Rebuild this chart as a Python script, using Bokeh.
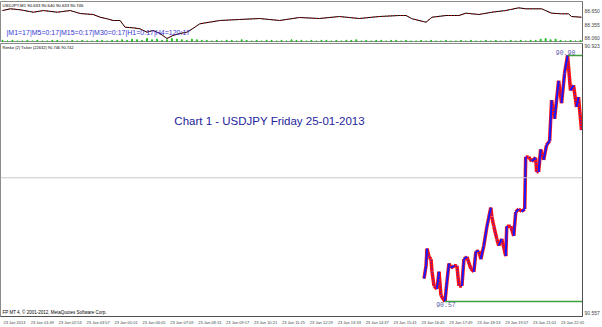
from bokeh.plotting import figure
from bokeh.layouts import column
from bokeh.models import Range1d, FixedTicker, Label, Span, NumeralTickFormatter
from bokeh.embed import file_html
from bokeh.resources import INLINE

# ---------------- data: upper window (USDJPY,M1) ----------------
m1_bars = [2, 10, 20, 33, 43, 57, 70, 80, 93, 100, 107, 113, 120, 125, 133, 140, 147, 153, 160, 167,
           173, 180, 187, 193, 200, 220, 240, 260, 280, 300, 320, 340, 360, 380, 400, 407, 413, 427, 433, 447,
           460, 467, 480, 493, 507, 520, 527, 543, 553, 563, 570, 573, 583]
m1_close = [88.665, 88.702, 88.680, 88.628, 88.665, 88.628, 88.665, 88.600, 88.579, 88.520,
            88.486, 88.449, 88.449, 88.304, 88.291, 88.270, 88.196, 88.233, 88.168, 88.060,
            88.125, 88.168, 88.196, 88.276, 88.378, 88.449, 88.471, 88.492, 88.449, 88.514,
            88.492, 88.535, 88.492, 88.535, 88.557, 88.557, 88.486, 88.412, 88.520, 88.557,
            88.557, 88.607, 88.579, 88.628, 88.665, 88.723, 88.702, 88.702, 88.607, 88.594,
            88.594, 88.535, 88.520]
m1_volume = [2, 1, 2, 1, 1, 2, 1, 2, 1, 1, 2, 2, 1, 1, 2, 1, 2, 1, 1, 2, 2, 1, 2, 2,
             3, 2, 4, 3, 2, 5, 3, 4, 2, 3, 5, 4, 3, 2, 4, 3,
             2, 2, 1, 2, 1, 2, 2, 1, 3, 2, 1, 2, 1, 2, 2, 1, 2, 1, 3, 2, 2, 1, 2, 1, 2, 2, 1, 2, 1, 2,
             2, 3, 1, 2, 1, 2, 2, 1, 2, 2,
             1, 2, 1, 1, 2, 1, 2, 1, 1, 2, 1, 1, 2, 1, 2, 1, 1, 2, 1, 2, 1, 1, 2, 1, 2, 1, 2, 2,
             4, 5, 3, 4,
             2, 1, 2, 1, 2]
m1_volume_bars = [2 + 5 * i for i in range(len(m1_volume))]
m1_price_ticks = [88.650, 88.355, 88.060]
m1_header = "USDJPY,M1  90.633 90.640 90.633 90.746"
timer_text = "|M1=17|M5=0:17|M15=0:17|M30=0:17|H1=0:17|H4=120:17"

# ---------------- data: Renko window ----------------
renko_bars = [425, 427, 428, 430, 432, 433, 435, 438, 440, 442, 446, 448, 450, 452, 455, 458, 460, 463, 465, 468,
              472, 475, 477, 480, 482, 485, 488, 492, 493, 495, 498, 500, 503, 507, 508, 512, 515, 517, 520, 523,
              526, 527, 530, 533, 537, 538, 540, 542, 545, 548, 551, 553, 556, 560, 563, 566, 569, 572, 575, 578,
              580, 583]
renko_close = [90.601, 90.618, 90.641, 90.630, 90.627, 90.610, 90.591, 90.587, 90.610, 90.578,
               90.570, 90.597, 90.621, 90.615, 90.618, 90.618, 90.591, 90.591, 90.627, 90.630,
               90.614, 90.610, 90.637, 90.638, 90.627, 90.645, 90.670, 90.696, 90.684, 90.671,
               90.654, 90.645, 90.654, 90.631, 90.671, 90.671, 90.658, 90.690, 90.694, 90.691,
               90.694, 90.764, 90.764, 90.758, 90.763, 90.744, 90.744, 90.774, 90.760, 90.780,
               90.785, 90.840, 90.815, 90.866, 90.836, 90.876, 90.900, 90.853, 90.860, 90.831,
               90.844, 90.800]
renko_high, renko_high_bar = 90.90, 569
renko_low, renko_low_bar = 90.57, 446
current_price = 90.736
renko_header = "Renko (2) Ticker (22632) 90.746 90.742"
renko_axis_ticks = [90.913, 90.555]
renko_axis_labels = ["90.923", "90.557"]
time_labels = ["23 Jan 2013", "23 Jan 01:49", "23 Jan 02:53", "23 Jan 03:57", "23 Jan 05:01",
               "23 Jan 06:05", "23 Jan 07:09", "23 Jan 08:13", "23 Jan 09:17", "23 Jan 10:21",
               "23 Jan 11:25", "23 Jan 12:29", "23 Jan 13:33", "23 Jan 14:37", "23 Jan 15:41",
               "23 Jan 16:45", "23 Jan 17:49", "23 Jan 18:53", "23 Jan 19:57", "23 Jan 21:01",
               "23 Jan 22:05"]
time_ticks = [14 + 28 * i for i in range(len(time_labels))]
title_text = "Chart 1 - USDJPY Friday 25-01-2013"
copyright_text = "FP MT 4, \u00a9 2001-2012, MetaQuotes Software Corp."

X_END = 584
xr = Range1d(0, X_END)
SMALL_FONT = "Liberation Sans"

# ---------------- upper window ----------------
top = figure(width=602, height=42, x_range=xr, y_range=Range1d(87.995, 88.860),
             output_backend="svg", toolbar_location=None, x_axis_location=None,
             y_axis_location="right", min_border_left=0, min_border_right=18,
             min_border_top=1, min_border_bottom=1)
top.background_fill_color = "white"
top.border_fill_color = "white"
top.outline_line_color = "#8c8c8c"
top.grid.visible = False
top.extra_y_ranges = {"vol": Range1d(0, 70)}
top.vbar(x=m1_volume_bars, top=m1_volume, bottom=0, width=1.0, y_range_name="vol",
         color="#22c022")
top.line(m1_bars, m1_close, color="black", line_width=1)
top.line(m1_bars, m1_close, color="#d00000", line_width=1, line_dash="1 2")
ya = top.yaxis[0]
ya.ticker = FixedTicker(ticks=m1_price_ticks)
ya.formatter = NumeralTickFormatter(format="0.000")
ya.major_label_text_font_size = "5px"
ya.major_label_text_font = SMALL_FONT
ya.major_tick_out = 0
ya.major_tick_in = 0
ya.minor_tick_out = 0
ya.minor_tick_in = 0
ya.major_label_standoff = 2
ya.axis_line_color = "#707070"
top.add_layout(Label(x=2, y=88.784, text=m1_header, text_font_size="4.3px",
                     text_font=SMALL_FONT, text_baseline="middle", text_color="black"))
top.add_layout(Label(x=6, y=88.200, text=timer_text, text_font_size="7px",
                     text_font=SMALL_FONT, text_baseline="middle", text_color="#3535d0"))

# ---------------- Renko window ----------------
main = figure(width=602, height=285, x_range=xr, y_range=Range1d(90.550, 90.916),
              output_backend="svg", toolbar_location=None, y_axis_location="right",
              min_border_left=0, min_border_right=18, min_border_top=1, min_border_bottom=9)
main.background_fill_color = "white"
main.border_fill_color = "white"
main.outline_line_color = "#8c8c8c"
main.grid.visible = False

main.add_layout(Span(location=current_price, dimension="width", line_color="#c8c8c8", line_width=1))

x0, x1 = renko_bars[:-1], renko_bars[1:]
y0, y1 = renko_close[:-1], renko_close[1:]
main.segment(x0=x0, y0=y0, x1=x1, y1=y1, color="#ff1010", line_width=3.5)
ux0 = [a for a, p, q in zip(x0, y0, y1) if q > p]
ux1 = [b for b, p, q in zip(x1, y0, y1) if q > p]
uy0 = [p for p, q in zip(y0, y1) if q > p]
uy1 = [q for p, q in zip(y0, y1) if q > p]
main.segment(x0=ux0, y0=uy0, x1=ux1, y1=uy1, color="#1a1aff", line_width=2)
main.line(renko_bars, renko_close, color="#1a1aff", line_width=1.2, line_dash="1 2")

main.segment(x0=[renko_high_bar, renko_low_bar], y0=[renko_high, renko_low],
             x1=[X_END, X_END], y1=[renko_high, renko_low], color="#3ca03c", line_width=1.5)
main.add_layout(Label(x=renko_high_bar - 2, y=renko_high, text=f"{renko_high:.2f}",
                      text_align="center", text_baseline="bottom", text_font_size="6.5px",
                      text_font="Liberation Mono", text_color="#5a5aa8"))
main.add_layout(Label(x=renko_low_bar + 1, y=renko_low, text=f"{renko_low:.2f}",
                      text_align="center", text_baseline="top", text_font_size="6.5px",
                      text_font="Liberation Mono", text_color="#5a5aa8"))

main.add_layout(Label(x=270, y=90.812, text=title_text, text_align="center",
                      text_baseline="middle", text_font_size="11.5px",
                      text_font="Liberation Sans", text_color="#24249c"))
main.add_layout(Label(x=2, y=90.911, text=renko_header, text_font_size="4px",
                      text_font=SMALL_FONT, text_baseline="middle", text_color="black"))
main.add_layout(Label(x=2, y=90.552, text=copyright_text, text_font_size="4.5px",
                      text_font=SMALL_FONT, text_baseline="bottom", text_color="black"))
main.add_layout(Label(x=X_END + 1, y=current_price, text=f"{current_price:.3f}",
                      text_font_size="5px", text_font=SMALL_FONT, text_baseline="middle",
                      text_color="#f4f4f4", background_fill_color="#c8c8c8"))

xa = main.xaxis[0]
xa.ticker = FixedTicker(ticks=time_ticks)
xa.major_label_overrides = {t: lab for t, lab in zip(time_ticks, time_labels)}
xa.major_label_text_font_size = "4px"
xa.major_label_text_font = SMALL_FONT
xa.major_tick_out = 0
xa.major_tick_in = 0
xa.minor_tick_out = 0
xa.minor_tick_in = 0
xa.major_label_standoff = 3
xa.axis_line_color = "#505050"

ra = main.yaxis[0]
ra.ticker = FixedTicker(ticks=renko_axis_ticks)
ra.major_label_overrides = {t: lab for t, lab in zip(renko_axis_ticks, renko_axis_labels)}
ra.major_label_text_font_size = "5px"
ra.major_label_text_font = SMALL_FONT
ra.major_tick_out = 0
ra.major_tick_in = 0
ra.minor_tick_out = 0
ra.minor_tick_in = 0
ra.major_label_standoff = 2
ra.axis_line_color = "#505050"

layout = column(top, main, spacing=0)
open("out.html", "w").write(file_html(layout, INLINE))
